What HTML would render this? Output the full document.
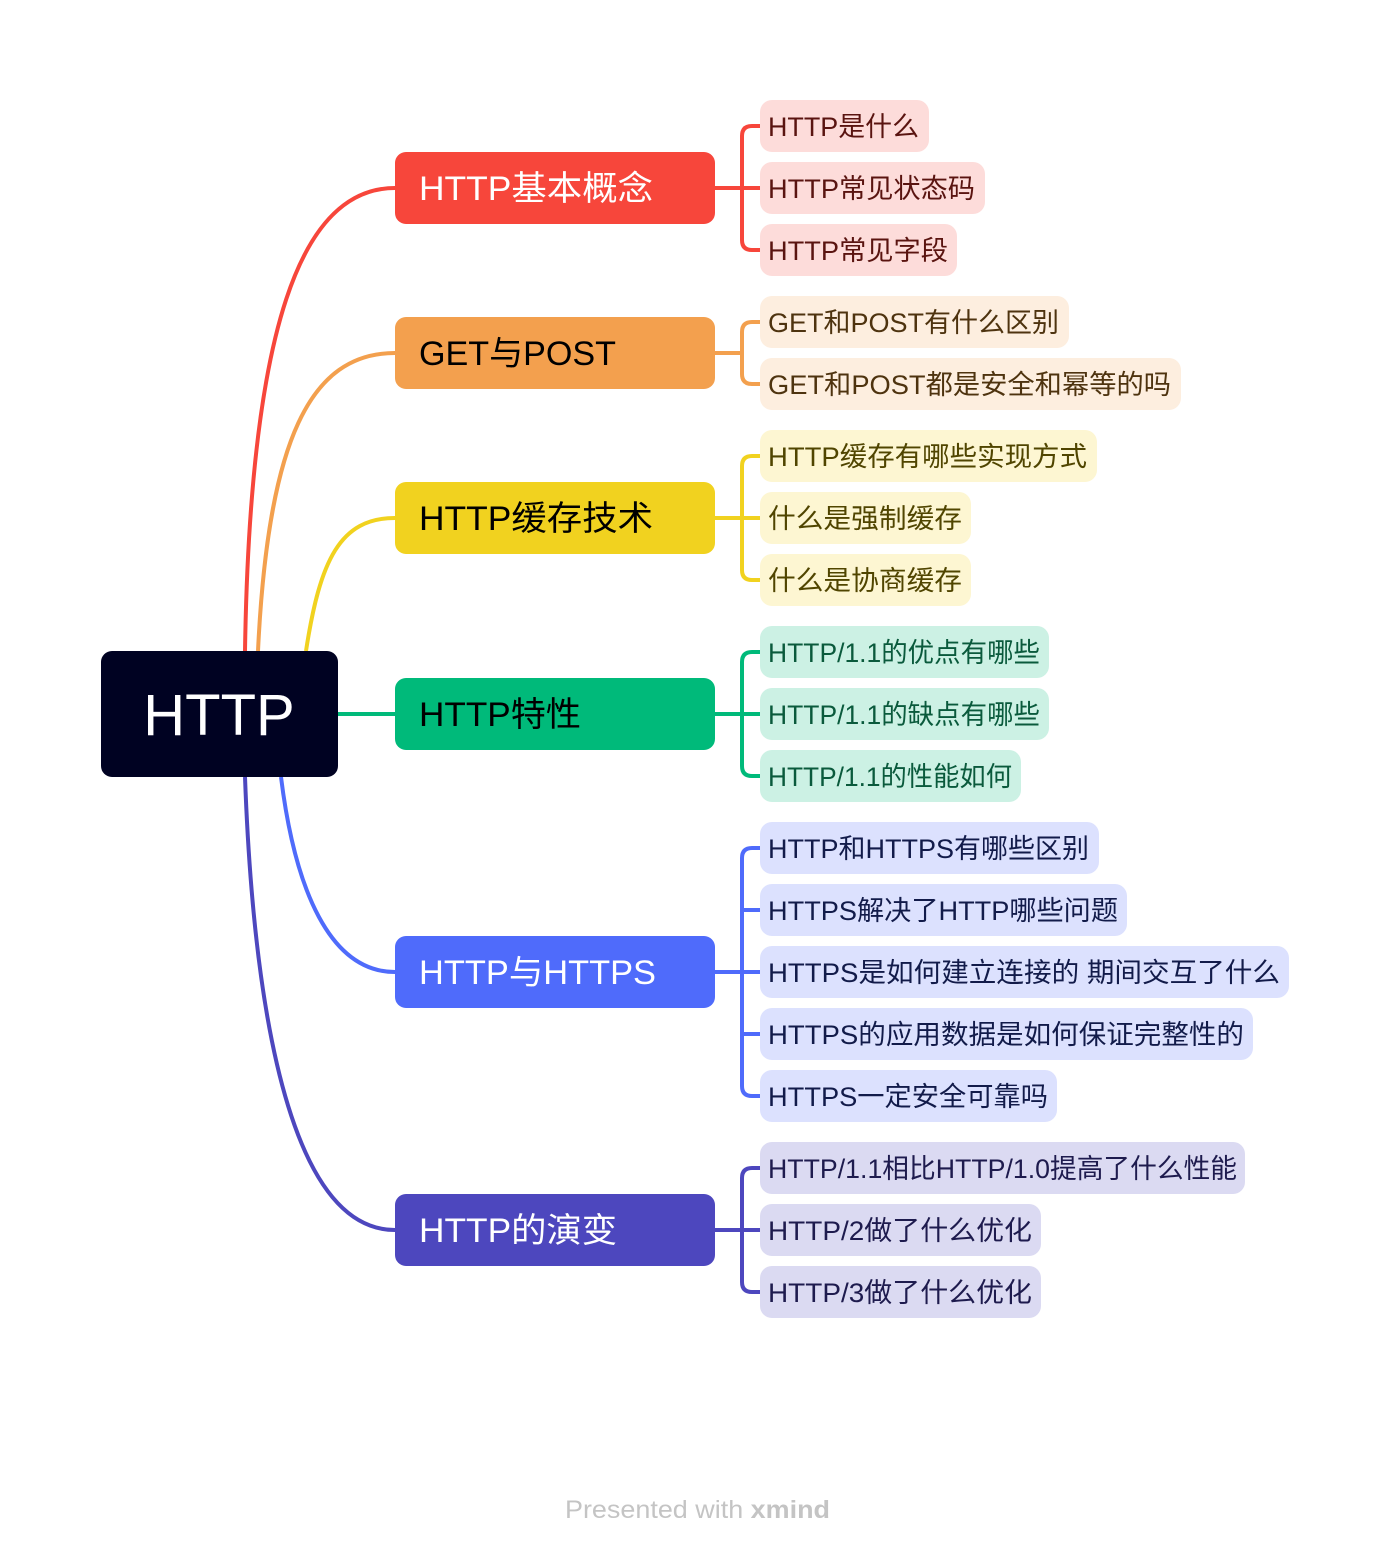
<!DOCTYPE html>
<html><head><meta charset="utf-8"><style>
html,body{margin:0;padding:0;background:#fff;}
svg{display:block;}
text{font-family:"Liberation Sans","Noto Sans CJK SC",sans-serif;}
</style></head><body>
<svg width="1390" height="1558" viewBox="0 0 1390 1558" xmlns="http://www.w3.org/2000/svg">
<g fill="none" stroke-width="4">
<path d="M245 651 C 250 330, 300 188, 395 188" stroke="#F7463B"/>
<path d="M258 651 C 268 440, 310 353, 395 353" stroke="#F3A04E"/>
<path d="M306 651 C 320 560, 340 518, 395 518" stroke="#F1D21F"/>
<path d="M338 714 L 395 714" stroke="#00BA7A"/>
<path d="M281 777 C 295 890, 330 972, 395 972" stroke="#4F6BFB"/>
<path d="M245 777 C 255 1050, 300 1230, 395 1230" stroke="#4D47BE"/>
<!-- child connectors -->
<g stroke="#F7463B"><path d="M715 188 H742"/><path d="M760 126 H752 Q742 126 742 136 V240 Q742 250 752 250 H760"/><path d="M742 188 H760"/></g>
<g stroke="#F3A04E"><path d="M715 353 H742"/><path d="M760 322 H752 Q742 322 742 332 V374 Q742 384 752 384 H760"/></g>
<g stroke="#F1D21F"><path d="M715 518 H760"/><path d="M760 456 H752 Q742 456 742 466 V570 Q742 580 752 580 H760"/></g>
<g stroke="#00BA7A"><path d="M715 714 H760"/><path d="M760 652 H752 Q742 652 742 662 V766 Q742 776 752 776 H760"/></g>
<g stroke="#4F6BFB"><path d="M715 972 H760"/><path d="M760 848 H752 Q742 848 742 858 V1086 Q742 1096 752 1096 H760"/><path d="M742 910 Q742 910 760 910"/><path d="M742 1034 H760"/></g>
<g stroke="#4D47BE"><path d="M715 1230 H760"/><path d="M760 1168 H752 Q742 1168 742 1178 V1282 Q742 1292 752 1292 H760"/></g>
</g>
<!-- root -->
<rect x="101" y="651" width="237" height="126" rx="11" fill="#000222"/>
<text x="219" y="735" font-size="58" fill="#fff" text-anchor="middle">HTTP</text>
<!-- main nodes -->
<g font-size="34">
<rect x="395" y="152" width="320" height="72" rx="11" fill="#F7463B"/><text x="419" y="200" fill="#fff" textLength="234" lengthAdjust="spacingAndGlyphs">HTTP基本概念</text>
<rect x="395" y="317" width="320" height="72" rx="11" fill="#F3A04E"/><text x="419" y="365" fill="#000" textLength="197" lengthAdjust="spacingAndGlyphs">GET与POST</text>
<rect x="395" y="482" width="320" height="72" rx="11" fill="#F1D21F"/><text x="419" y="530" fill="#000" textLength="234" lengthAdjust="spacingAndGlyphs">HTTP缓存技术</text>
<rect x="395" y="678" width="320" height="72" rx="11" fill="#00BA7A"/><text x="419" y="726" fill="#000" textLength="162" lengthAdjust="spacingAndGlyphs">HTTP特性</text>
<rect x="395" y="936" width="320" height="72" rx="11" fill="#4F6BFB"/><text x="419" y="984" fill="#fff" textLength="237" lengthAdjust="spacingAndGlyphs">HTTP与HTTPS</text>
<rect x="395" y="1194" width="320" height="72" rx="11" fill="#4D47BE"/><text x="419" y="1242" fill="#fff" textLength="198" lengthAdjust="spacingAndGlyphs">HTTP的演变</text>
</g>
<!-- children -->
<g font-size="27">
<g fill="#FDDCDA"><rect x="760" y="100" width="169" height="52" rx="12"/><rect x="760" y="162" width="225" height="52" rx="12"/><rect x="760" y="224" width="197" height="52" rx="12"/></g>
<g fill="#5A1410"><text x="768" y="136" textLength="151" lengthAdjust="spacingAndGlyphs">HTTP是什么</text><text x="768" y="198" textLength="207" lengthAdjust="spacingAndGlyphs">HTTP常见状态码</text><text x="768" y="260" textLength="180" lengthAdjust="spacingAndGlyphs">HTTP常见字段</text></g>
<g fill="#FDEEDF"><rect x="760" y="296" width="309" height="52" rx="12"/><rect x="760" y="358" width="421" height="52" rx="12"/></g>
<g fill="#4E330F"><text x="768" y="332" textLength="291" lengthAdjust="spacingAndGlyphs">GET和POST有什么区别</text><text x="768" y="394" textLength="403" lengthAdjust="spacingAndGlyphs">GET和POST都是安全和幂等的吗</text></g>
<g fill="#FDF6D2"><rect x="760" y="430" width="337" height="52" rx="12"/><rect x="760" y="492" width="211" height="52" rx="12"/><rect x="760" y="554" width="211" height="52" rx="12"/></g>
<g fill="#504500"><text x="768" y="466" textLength="319" lengthAdjust="spacingAndGlyphs">HTTP缓存有哪些实现方式</text><text x="768" y="528" textLength="194" lengthAdjust="spacingAndGlyphs">什么是强制缓存</text><text x="768" y="590" textLength="194" lengthAdjust="spacingAndGlyphs">什么是协商缓存</text></g>
<g fill="#CCF1E4"><rect x="760" y="626" width="289" height="52" rx="12"/><rect x="760" y="688" width="289" height="52" rx="12"/><rect x="760" y="750" width="261" height="52" rx="12"/></g>
<g fill="#0A5A3C"><text x="768" y="662" textLength="272" lengthAdjust="spacingAndGlyphs">HTTP/1.1的优点有哪些</text><text x="768" y="724" textLength="272" lengthAdjust="spacingAndGlyphs">HTTP/1.1的缺点有哪些</text><text x="768" y="786" textLength="244" lengthAdjust="spacingAndGlyphs">HTTP/1.1的性能如何</text></g>
<g fill="#DCE1FE"><rect x="760" y="822" width="339" height="52" rx="12"/><rect x="760" y="884" width="367" height="52" rx="12"/><rect x="760" y="946" width="529" height="52" rx="12"/><rect x="760" y="1008" width="493" height="52" rx="12"/><rect x="760" y="1070" width="297" height="52" rx="12"/></g>
<g fill="#121B4A"><text x="768" y="858" textLength="321" lengthAdjust="spacingAndGlyphs">HTTP和HTTPS有哪些区别</text><text x="768" y="920" textLength="350" lengthAdjust="spacingAndGlyphs">HTTPS解决了HTTP哪些问题</text><text x="768" y="982" textLength="512" lengthAdjust="spacingAndGlyphs">HTTPS是如何建立连接的 期间交互了什么</text><text x="768" y="1044" textLength="476" lengthAdjust="spacingAndGlyphs">HTTPS的应用数据是如何保证完整性的</text><text x="768" y="1106" textLength="280" lengthAdjust="spacingAndGlyphs">HTTPS一定安全可靠吗</text></g>
<g fill="#DBDAF2"><rect x="760" y="1142" width="485" height="52" rx="12"/><rect x="760" y="1204" width="281" height="52" rx="12"/><rect x="760" y="1266" width="281" height="52" rx="12"/></g>
<g fill="#1E1B4E"><text x="768" y="1178" textLength="469" lengthAdjust="spacingAndGlyphs">HTTP/1.1相比HTTP/1.0提高了什么性能</text><text x="768" y="1240" textLength="264" lengthAdjust="spacingAndGlyphs">HTTP/2做了什么优化</text><text x="768" y="1302" textLength="264" lengthAdjust="spacingAndGlyphs">HTTP/3做了什么优化</text></g>
</g>
<text x="565" y="1518" font-size="25" fill="#C4C4C4" textLength="265" lengthAdjust="spacingAndGlyphs">Presented with <tspan font-weight="bold">xmind</tspan></text>
</svg>
</body></html>
